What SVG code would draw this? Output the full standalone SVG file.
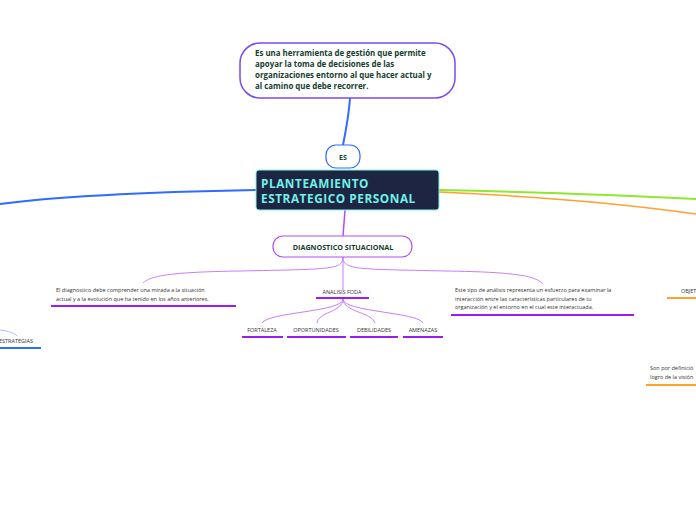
<svg xmlns="http://www.w3.org/2000/svg" width="696" height="520" viewBox="0 0 696 520">
<style>
.bold{font-family:"Open Sans","Noto Sans",sans-serif;font-weight:bold;fill:#143d2e}
.sm{font-family:"Open Sans","Noto Sans",sans-serif;font-size:5.5px;fill:#333}
.pl{fill:none;stroke:#c77dff;stroke-width:1}
.ul{stroke:#9d1cf2;stroke-width:2}
.ct{font-family:"Open Sans","Noto Sans",sans-serif;font-weight:bold;font-size:11.8px;fill:#6ff2ea;letter-spacing:0.55px}
</style>
<rect width="696" height="520" fill="#fff"/>
<g id="connectors" fill="none">
  <path d="M343,145 C347,125 349,115 350,98" stroke="#2f6bff" stroke-width="2"/>
  <path d="M256,190 C150,192 60,196 0,204" stroke="#2f6bff" stroke-width="2"/>
  <path d="M439,190 C530,192 620,195 696,199" stroke="#8ee82e" stroke-width="2"/>
  <path d="M439,192 C530,196 620,203 696,214" stroke="#ffa12b" stroke-width="1.5"/>
  <path d="M345,210 L343,236" stroke="#b44cf5" stroke-width="1.5"/>
  <path class="pl" d="M343,257 C343,270 330,269 240,271 C170,272 150,276 143,283"/>
  <path class="pl" d="M343,257 L343,290"/>
  <path class="pl" d="M343,257 C343,270 356,269 446,271 C516,272 536,276 543,284"/>
  <path class="pl" d="M343,299 C343,312 268,312 262,323"/>
  <path class="pl" d="M343,299 C343,312 318,312 317,323"/>
  <path class="pl" d="M343,299 C343,312 372,312 375,323"/>
  <path class="pl" d="M343,299 C343,312 418,312 423,323"/>
  <path d="M0,330 C8,331 15,333 17,336" stroke="#a9c3ff" stroke-width="1"/>
</g>
<g id="n-def">
  <rect x="240" y="43" width="215" height="55" rx="20" fill="#fff" stroke="#7b4cf0" stroke-width="1.5"/>
  <text class="bold" font-size="7.9"><tspan x="255" y="56">Es una herramienta de gestión que permite</tspan><tspan x="255" y="67">apoyar la toma de decisiones de las</tspan><tspan x="255" y="78">organizaciones entorno al que hacer actual y</tspan><tspan x="255" y="89">al camino que debe recorrer.</tspan></text>
</g>
<g id="n-es">
  <rect x="326" y="145" width="34" height="23" rx="10" fill="#fff" stroke="#2f6bff" stroke-width="1.2"/>
  <text class="bold" font-size="7" x="343" y="159.5" text-anchor="middle">ES</text>
</g>
<g id="n-central">
  <rect x="256" y="170" width="183" height="40" rx="3" fill="#1e2542" stroke="#7ff3ea" stroke-width="1"/>
  <text class="ct" x="261" y="187.5">PLANTEAMIENTO</text>
  <text class="ct" x="261" y="202.5">ESTRATEGICO PERSONAL</text>
</g>
<g id="n-diag">
  <rect x="273" y="236" width="139" height="21" rx="10" fill="#fff" stroke="#b44cf5" stroke-width="1.2"/>
  <text class="bold" font-size="7.2" x="343" y="249.5" text-anchor="middle">DIAGNOSTICO SITUACIONAL</text>
</g>
<g id="n-diag-text">
  <text class="sm"><tspan x="56" y="292">El diagnostico debe comprender una mirada a la situación</tspan><tspan x="56" y="301">actual y a la evolución que ha tenido en los años anteriores.</tspan></text>
  <line class="ul" x1="51" y1="306" x2="236" y2="306"/>
</g>
<g id="n-foda">
  <text class="sm" x="342" y="294" text-anchor="middle">ANALISIS FODA</text>
  <line class="ul" x1="316" y1="298" x2="369" y2="298"/>
</g>
<g id="n-fortaleza">
  <text class="sm" x="262" y="332" text-anchor="middle">FORTALEZA</text>
  <line class="ul" x1="242" y1="337" x2="283" y2="337"/>
</g>
<g id="n-oportunidades">
  <text class="sm" x="316" y="332" text-anchor="middle">OPORTUNIDADES</text>
  <line class="ul" x1="287" y1="337" x2="346" y2="337"/>
</g>
<g id="n-debilidades">
  <text class="sm" x="374" y="332" text-anchor="middle">DEBILIDADES</text>
  <line class="ul" x1="350" y1="337" x2="398" y2="337"/>
</g>
<g id="n-amenazas">
  <text class="sm" x="423" y="332" text-anchor="middle">AMENAZAS</text>
  <line class="ul" x1="403" y1="337" x2="443" y2="337"/>
</g>
<g id="n-foda-text">
  <text class="sm"><tspan x="455" y="292">Este tipo de análisis representa un esfuerzo para examinar la</tspan><tspan x="455" y="300.5">interacción entre las características particulares de tu</tspan><tspan x="455" y="309">organización y el entorno en el cual este interactuada.</tspan></text>
  <line class="ul" x1="451" y1="315" x2="634" y2="315"/>
</g>
<g id="n-objet">
  <text class="sm" x="681" y="293">OBJET</text>
  <line x1="667" y1="298" x2="696" y2="298" stroke="#ffa12b" stroke-width="2"/>
</g>
<g id="n-objet-text">
  <text class="sm"><tspan x="650" y="370">Son por definició</tspan><tspan x="650" y="379">logro de la visión</tspan></text>
  <line x1="646" y1="385" x2="696" y2="385" stroke="#ffa12b" stroke-width="2"/>
</g>
<g id="n-estrategias">
  <text class="sm" x="-1" y="343">ESTRATEGIAS</text>
  <line x1="0" y1="348" x2="41" y2="348" stroke="#2f6bff" stroke-width="2"/>
</g>
</svg>
